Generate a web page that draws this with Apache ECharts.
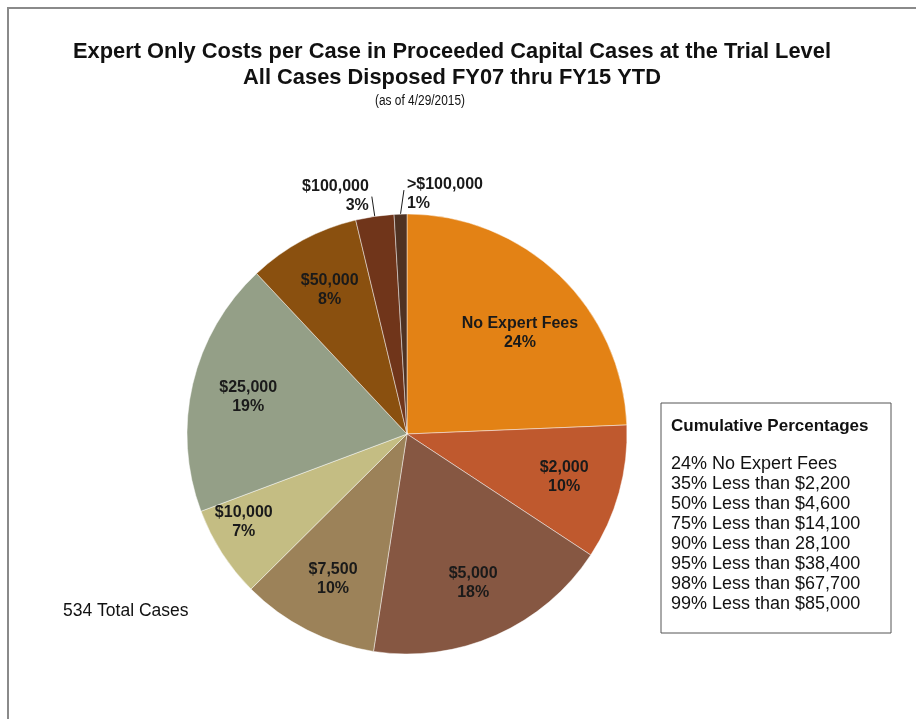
<!DOCTYPE html>
<html>
<head>
<meta charset="utf-8">
<title>Expert Only Costs per Case</title>
<script src="https://cdn.jsdelivr.net/npm/echarts@6/dist/echarts.min.js"></script>
<style>
  html, body { margin: 0; padding: 0; background: #fff; }
  #chart { width: 916px; height: 719px; }
</style>
</head>
<body>
<div id="chart"></div>
<script>
// 各费用档的案件数量（合计 534 件）
const categories = ['No Expert Fees', '$2,000', '$5,000', '$7,500', '$10,000', '$25,000', '$50,000', '$100,000', '>$100,000']
const caseCounts = [130, 53, 97, 54, 36, 100, 44, 15, 5]
const sliceColors = ['#e38215', '#bf592e', '#865742', '#9c8259', '#c4bd83', '#949f87', '#8a500f', '#70351a', '#4f3222']

// 右侧累计百分比说明框
const cumulativeTitle = 'Cumulative Percentages'
const cumulativeLines = [
  '24% No Expert Fees',
  '35% Less than $2,200',
  '50% Less than $4,600',
  '75% Less than $14,100',
  '90% Less than 28,100',
  '95% Less than $38,400',
  '98% Less than $67,700',
  '99% Less than $85,000'
]
const totalCasesText = '534 Total Cases'
const titleLines = ['Expert Only Costs per Case in Proceeded Capital Cases at the Trial Level', 'All Cases Disposed FY07 thru FY15 YTD']
const subTitle = '(as of 4/29/2015)'

// 小扇区的标签放在外面，带引导线
const outsideLabels = ['$100,000', '>$100,000']
// Excel 自动摆放的标签并不都在同一半径上，这里手动微调
const labelNudge = { 'No Expert Fees': [0, 17], '$10,000': [-26, 0] }

const FONT = '"Liberation Sans", Arial, sans-serif'
const CENTER = [407, 434]
const RADIUS = 220

// 原图标题是窄体字，没有这个字体就把普通粗体横向压扁
const TITLE_FONT = 'bold 22px ' + FONT
const TITLE_WIDTH = 758
const measureCtx = document.createElement('canvas').getContext('2d')
measureCtx.font = TITLE_FONT
const titleScaleX = Math.min(1, TITLE_WIDTH / measureCtx.measureText(titleLines[0]).width)
const SUB_FONT = '14px ' + FONT

const chart = echarts.init(document.getElementById('chart'), null, { renderer: 'canvas' })

const labelStyle = {
  color: '#1a1a1a',
  fontFamily: FONT,
  fontWeight: 'bold',
  fontSize: 16,
  lineHeight: 19,
  formatter: '{b}\n{d}%'
}

const pieData = categories.map((name, i) => {
  const item = { name: name, value: caseCounts[i], itemStyle: { color: sliceColors[i] } }
  if (outsideLabels.includes(name)) {
    item.label = { show: true }
    item.labelLine = { show: true }
  }
  return item
})

const option = {
  animation: false,
  backgroundColor: '#fff',
  series: [
    {
      // 真正画出来的饼图
      type: 'pie',
      z: 2,
      center: CENTER,
      radius: RADIUS,
      startAngle: 90,
      clockwise: true,
      avoidLabelOverlap: false,
      percentPrecision: 0,
      silent: true,
      itemStyle: {
        borderColor: 'rgba(255,255,255,0.45)',
        borderWidth: 1
      },
      label: Object.assign({}, labelStyle, {
        show: false,
        position: 'outside',
        distanceToLabelLine: 3
      }),
      labelLine: {
        show: false,
        length: 20,
        length2: 0,
        smooth: false,
        lineStyle: { color: '#1a1a1a', width: 1 }
      },
      // >$100,000 的标签在 Excel 里是放到引导线右边的
      labelLayout: function (p) {
        if (categories[p.dataIndex] !== '>$100,000' || !p.labelLinePoints) return
        const pts = p.labelLinePoints
        const end = [pts[1][0] + 4, pts[1][1] - 4]
        return {
          x: end[0] + 3,
          y: end[1] + 4,
          align: 'left',
          verticalAlign: 'middle',
          labelLinePoints: [pts[0], end, end]
        }
      },
      data: pieData
    },
    {
      // 只用来放内部标签的透明饼图，半径放大让标签靠外
      type: 'pie',
      z: 3,
      center: CENTER,
      radius: RADIUS * 1.455,
      startAngle: 90,
      clockwise: true,
      percentPrecision: 0,
      silent: true,
      itemStyle: { color: 'rgba(0,0,0,0)', borderWidth: 0 },
      label: Object.assign({}, labelStyle, {
        show: true,
        position: 'inside'
      }),
      labelLine: { show: false },
      labelLayout: function (p) {
        const n = labelNudge[categories[p.dataIndex]]
        if (n) return { dx: n[0], dy: n[1] }
      },
      data: categories.map((name, i) => ({
        name: name,
        value: caseCounts[i],
        label: { show: !outsideLabels.includes(name) }
      }))
    }
  ],
  graphic: [
    {
      // 外框
      type: 'rect',
      z: 0,
      shape: { x: 8, y: 8, width: 1000, height: 1000 },
      style: { fill: 'none', stroke: '#8a8a8a', lineWidth: 2 }
    },
    {
      type: 'text',
      x: 452,
      y: 39,
      scaleX: titleScaleX,
      style: {
        text: titleLines.join('\n'),
        font: TITLE_FONT,
        lineHeight: 26,
        fill: '#111',
        align: 'center',
        verticalAlign: 'top'
      }
    },
    {
      type: 'text',
      x: 420,
      y: 101,
      scaleX: 0.85,
      style: {
        text: subTitle,
        font: SUB_FONT,
        fill: '#111',
        align: 'center',
        verticalAlign: 'middle'
      }
    },
    {
      type: 'text',
      x: 63,
      y: 611,
      style: {
        text: totalCasesText,
        font: '17.5px ' + FONT,
        fill: '#111',
        align: 'left',
        verticalAlign: 'middle'
      }
    },
    {
      type: 'rect',
      shape: { x: 661, y: 403, width: 230, height: 230 },
      style: { fill: '#fff', stroke: '#555', lineWidth: 1 }
    },
    {
      type: 'text',
      x: 671,
      y: 426,
      z: 10,
      style: {
        text: cumulativeTitle,
        font: 'bold 17px ' + FONT,
        fill: '#111',
        align: 'left',
        verticalAlign: 'middle'
      }
    },
    {
      type: 'text',
      x: 671,
      y: 454,
      z: 10,
      style: {
        text: cumulativeLines.join('\n'),
        font: '18px ' + FONT,
        lineHeight: 20,
        fill: '#111',
        align: 'left',
        verticalAlign: 'top'
      }
    }
  ]
}

chart.setOption(option)
</script>
</body>
</html>
